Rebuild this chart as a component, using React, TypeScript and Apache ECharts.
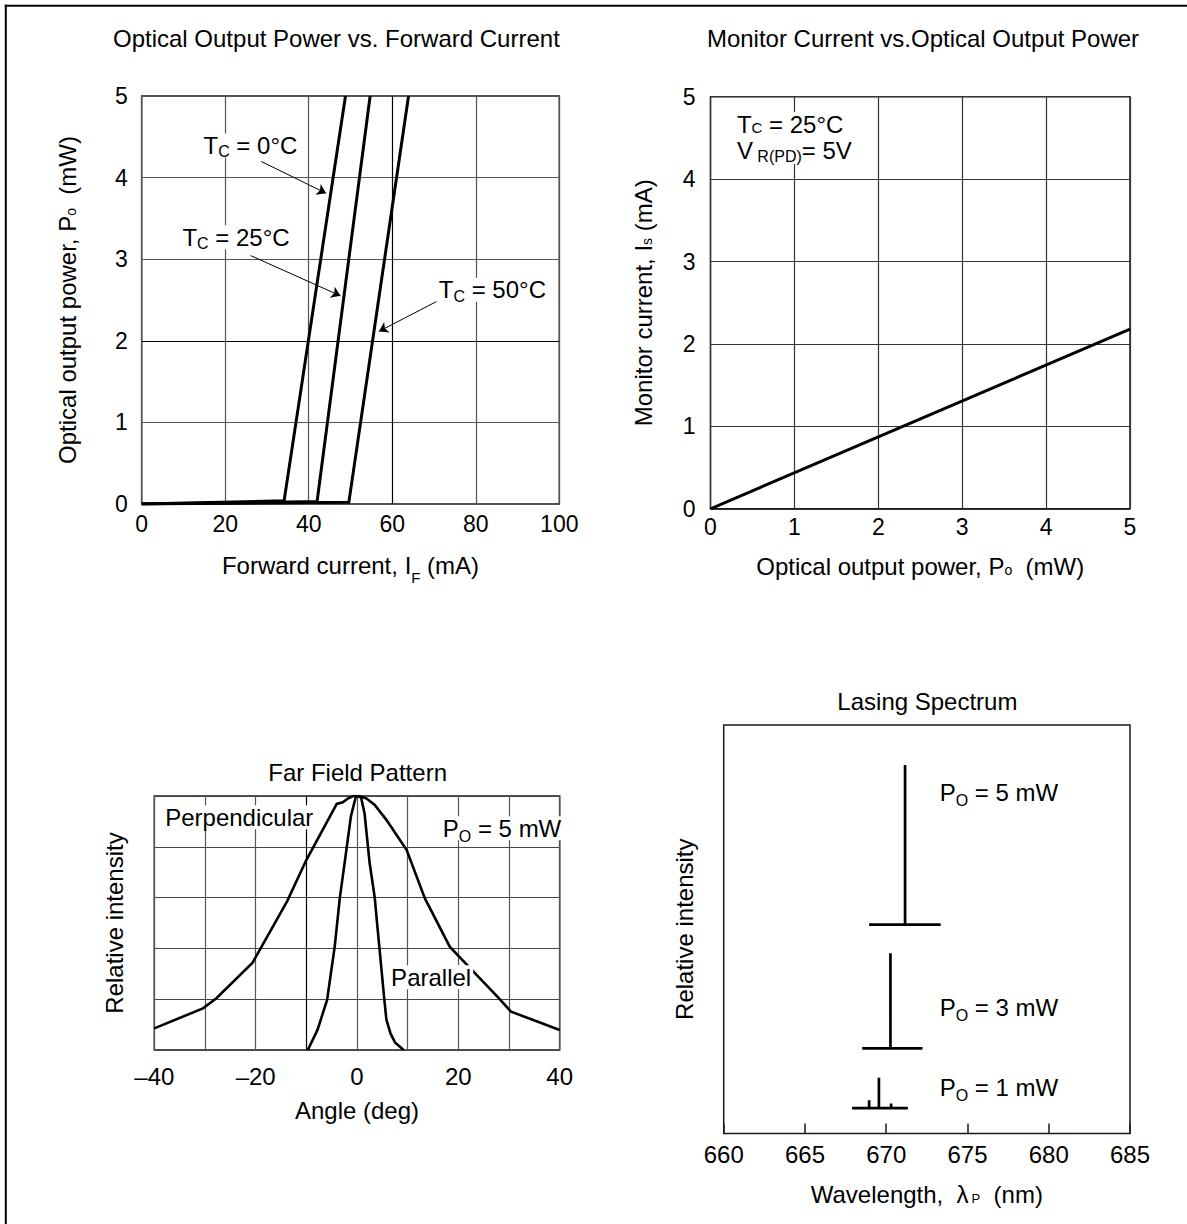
import React, { useEffect, useRef } from 'react';
import * as echarts from 'echarts';

const FONT = "'Liberation Sans', Arial, Helvetica, sans-serif";

// ---------- Optical Output Power vs. Forward Current ----------
const tc0Curve = [[0, 0], [34.1, 0.04], [48.8, 5]];
const tc25Curve = [[0, 0], [42.0, 0.03], [54.7, 5]];
const tc50Curve = [[0, 0], [49.6, 0.02], [63.9, 5]];
const tcLabelTexts = ['T{sub|C} = 0°C', 'T{sub|C} = 25°C', 'T{sub|C} = 50°C'];
const tcLabelAnchors = [[14.2, 4.394], [9.15, 3.268], [70.55, 2.626]];
const tcArrowFrom = [[28.66, 4.197], [26.1, 3.044], [70.55, 2.48]];
const tcArrowTo = [[44.16, 3.808], [47.6, 2.551], [56.8, 2.115]];

// ---------- Monitor Current vs. Optical Output Power ----------
const monitorLine = [[0, 0], [5, 2.18]];
const monitorLabelTexts = ['T{subT|C} = 25°C\nV{subV| R(PD)}= 5V'];
const monitorLabelAnchors = [[0.285, 4.499]];

// ---------- Far Field Pattern ----------
const perpendicularCurve = [
  [-40, 0.085], [-30.4, 0.164], [-27.8, 0.203], [-20.6, 0.344], [-13.8, 0.585],
  [-10, 0.748], [-4, 0.969], [-2.8, 0.975], [-1.8, 0.99], [-0.8, 1.0], [0.5, 1.0],
  [1.9, 0.99], [3.5, 0.965], [5.8, 0.906], [9.8, 0.787], [13.4, 0.597],
  [18.3, 0.407], [20.2, 0.367], [27.7, 0.21], [30.4, 0.151], [40, 0.079],
];
const parallelCurve = [
  [-9.7, 0], [-7.8, 0.079], [-5.9, 0.197], [-4.4, 0.407], [-3.4, 0.597],
  [-2.1, 0.787], [-1.2, 0.92], [-0.2, 1.0], [0.8, 0.995], [1.5, 0.93],
  [2.5, 0.735], [3.5, 0.6], [3.9, 0.512], [5.4, 0.197], [5.8, 0.12],
  [6.6, 0.066], [7.5, 0.03], [9.2, 0],
];
const angleTickLabels = ['–40', '–20', '0', '20', '40'];
const farLabelTexts = ['Perpendicular', 'P{subP|O} = 5 mW', 'Parallel'];
const farLabelAnchors = [[-38.34, 0.916], [16.44, 0.873], [6.24, 0.286]];

// ---------- Lasing Spectrum ----------
const spec5mW = [[668.95, 51.1], [671.16, 51.1], [671.16, 90.2], [671.16, 51.1], [673.35, 51.1]];
const spec3mW = [[668.52, 20.8], [670.26, 20.8], [670.26, 44.1], [670.26, 20.8], [672.23, 20.8]];
const spec1mW = [
  [667.9, 6.2], [668.95, 6.2], [668.95, 8.1], [668.95, 6.2], [669.55, 6.2], [669.55, 13.6],
  [669.55, 6.2], [670.3, 6.2], [670.3, 7.3], [670.3, 6.2], [671.33, 6.2],
];
const specLabelTexts = ['P{subP|O} = 5 mW', 'P{subP|O} = 3 mW', 'P{subP|O} = 1 mW'];
const specLabelAnchors = [[673.14, 83.4], [673.14, 30.8], [673.14, 11.3]];

const rich: any = {
  sub: { fontSize: 16, fontFamily: FONT, color: '#000', lineHeight: 24, padding: [13, 0, 0, 0] },
  subT: { fontSize: 15, fontFamily: FONT, color: '#000', lineHeight: 24, padding: [6, 0, 0, 0] },
  subV: { fontSize: 16, fontFamily: FONT, color: '#000', lineHeight: 24, padding: [12, 0, 0, 0] },
  subP: { fontSize: 16, fontFamily: FONT, color: '#000', lineHeight: 24, padding: [16, 0, 0, 0] },
  subF: { fontSize: 15, fontFamily: FONT, color: '#000', lineHeight: 24, padding: [24, 0, 0, 0] },
  small: { fontSize: 14, fontFamily: FONT, color: '#000', lineHeight: 24, padding: [7, 0, 0, 0] },
  lam: { fontSize: 13, fontFamily: FONT, color: '#000', lineHeight: 24, padding: [9, 0, 0, 3] },
};

const nameStyle = { fontSize: 24, fontFamily: FONT, color: '#000', rich };
const gridLineTL_X = { show: true, lineStyle: { color: ['#555', '#555', '#555', '#000', '#555', '#555'], width: 1.2 } };
const gridLineTL_Y = { show: true, lineStyle: { color: ['#555', '#555', '#000', '#555', '#555', '#555'], width: 1.2 } };
const gridLineTR = { show: true, lineStyle: { color: '#333', width: 1.2 } };
const gridLineFF_X = { show: true, lineStyle: { color: ['#555', '#555', '#555', '#000', '#555', '#555', '#555', '#555', '#555'], width: 1.2 } };
const gridLineFF_Y = { show: true, lineStyle: { color: '#444', width: 1.2 } };

function labelPoints(texts: string[], anchors: number[][], lineHeight?: number) {
  const label: any = {
    show: true,
    position: 'right',
    distance: 0,
    fontSize: 24,
    fontFamily: FONT,
    color: '#000',
    backgroundColor: '#fff',
    padding: [0, 2],
    rich,
  };
  if (lineHeight) label.lineHeight = lineHeight;
  return {
    silent: true,
    symbol: 'circle',
    symbolSize: 1,
    itemStyle: { color: 'rgba(0,0,0,0)' },
    label,
    data: texts.map((t, i) => ({ coord: anchors[i], label: { formatter: () => t } })),
  };
}

function lineSeries(data: number[][], gi: number, width: number, extra: any = {}) {
  return {
    type: 'line',
    xAxisIndex: gi,
    yAxisIndex: gi,
    data,
    showSymbol: false,
    symbol: 'none',
    silent: true,
    lineStyle: { color: '#000', width, cap: 'butt', join: 'miter' },
    ...extra,
  };
}

function buildOption() {
  const gridBox = { show: true, borderColor: '#1a1a1a', borderWidth: 1.5, outerBoundsMode: 'none', containLabel: false };
  return {
    animation: false,
    backgroundColor: '#fff',
    grid: [
      { left: 141.7, top: 96, width: 417.6, height: 408, ...gridBox },
      { left: 710.5, top: 96.7, width: 419.5, height: 412.1, ...gridBox },
      { left: 154.3, top: 796, width: 405.4, height: 254, ...gridBox },
      { left: 723.7, top: 725, width: 406.3, height: 408.4, ...gridBox },
    ],
    xAxis: [
      {
        type: 'value', gridIndex: 0, min: 0, max: 100, interval: 20,
        axisLine: { show: false }, axisTick: { show: false }, splitLine: gridLineTL_X,
        axisLabel: { fontSize: 23, fontFamily: FONT, color: '#000', margin: 8 },
        name: 'Forward current, I{subF|F} (mA)', nameLocation: 'middle', nameGap: 49, nameTextStyle: nameStyle,
      },
      {
        type: 'value', gridIndex: 1, min: 0, max: 5, interval: 1,
        axisLine: { show: false }, axisTick: { show: false }, splitLine: gridLineTR,
        axisLabel: { fontSize: 23, fontFamily: FONT, color: '#000', margin: 7 },
        name: 'Optical output power, P{small|o}  (mW)', nameLocation: 'middle', nameGap: 46, nameTextStyle: nameStyle,
      },
      {
        type: 'value', gridIndex: 2, min: -40, max: 40, interval: 10,
        axisLine: { show: false }, axisTick: { show: false }, splitLine: gridLineFF_X,
        axisLabel: {
          fontSize: 24, fontFamily: FONT, color: '#000', margin: 14,
          formatter: (v: number) => (v % 20 === 0 ? angleTickLabels[(v + 40) / 20] : ''),
        },
        name: 'Angle (deg)', nameLocation: 'middle', nameGap: 48, nameTextStyle: nameStyle,
      },
      {
        type: 'value', gridIndex: 3, min: 660, max: 685, interval: 5,
        axisLine: { show: false },
        axisTick: { show: true, inside: true, length: 10, lineStyle: { color: '#1a1a1a', width: 1.5 } },
        splitLine: { show: false },
        axisLabel: { fontSize: 24, fontFamily: FONT, color: '#000', margin: 9 },
        name: 'Wavelength,  λ{lam|P}  (nm)', nameLocation: 'middle', nameGap: 49, nameTextStyle: nameStyle,
      },
    ],
    yAxis: [
      {
        type: 'value', gridIndex: 0, min: 0, max: 5, interval: 1,
        axisLine: { show: false }, axisTick: { show: false }, splitLine: gridLineTL_Y,
        axisLabel: { fontSize: 23, fontFamily: FONT, color: '#000', margin: 14 },
        name: 'Optical output power, P{small|o}  (mW)', nameLocation: 'middle', nameRotate: 90, nameGap: 62,
        nameTextStyle: nameStyle,
      },
      {
        type: 'value', gridIndex: 1, min: 0, max: 5, interval: 1,
        axisLine: { show: false }, axisTick: { show: false }, splitLine: gridLineTR,
        axisLabel: { fontSize: 23, fontFamily: FONT, color: '#000', margin: 15 },
        name: 'Monitor current, I{small|s} (mA)', nameLocation: 'middle', nameRotate: 90, nameGap: 55,
        nameTextStyle: nameStyle,
      },
      {
        type: 'value', gridIndex: 2, min: 0, max: 1, interval: 0.2,
        axisLine: { show: false }, axisTick: { show: false }, splitLine: gridLineFF_Y,
        axisLabel: { show: false },
        name: 'Relative intensity', nameLocation: 'middle', nameRotate: 90, nameGap: 28, nameTextStyle: nameStyle,
      },
      {
        type: 'value', gridIndex: 3, min: 0, max: 100,
        axisLine: { show: false }, axisTick: { show: false }, splitLine: { show: false },
        axisLabel: { show: false },
        name: 'Relative intensity', nameLocation: 'middle', nameRotate: 90, nameGap: 27, nameTextStyle: nameStyle,
      },
    ],
    series: [
      lineSeries(tc0Curve, 0, 3, {
        markPoint: labelPoints(tcLabelTexts, tcLabelAnchors),
        markLine: {
          silent: true,
          symbol: ['none', 'arrow'],
          symbolSize: 9,
          label: { show: false },
          emphasis: { disabled: true },
          lineStyle: { color: '#000', width: 1, type: 'solid' },
          data: tcArrowFrom.map((a, i) => [{ coord: a }, { coord: tcArrowTo[i] }]),
        },
      }),
      lineSeries(tc25Curve, 0, 3),
      lineSeries(tc50Curve, 0, 3),
      lineSeries(monitorLine, 1, 3, { markPoint: labelPoints(monitorLabelTexts, monitorLabelAnchors, 26) }),
      lineSeries(perpendicularCurve, 2, 2.6, { markPoint: labelPoints(farLabelTexts, farLabelAnchors) }),
      lineSeries(parallelCurve, 2, 2.6),
      lineSeries(spec5mW, 3, 2.7, { markPoint: labelPoints(specLabelTexts, specLabelAnchors) }),
      lineSeries(spec3mW, 3, 2.7),
      lineSeries(spec1mW, 3, 2.7),
    ],
    graphic: [
      { type: 'line', silent: true, shape: { x1: 5.8, y1: 4.7, x2: 5.8, y2: 1224 }, style: { stroke: '#000', lineWidth: 2 } },
      { type: 'line', silent: true, shape: { x1: 4.8, y1: 5.7, x2: 1187, y2: 5.7 }, style: { stroke: '#000', lineWidth: 2 } },
      ...[
        ['Optical Output Power vs. Forward Current', 336.4, 38.3],
        ['Monitor Current vs.Optical Output Power', 923, 38.2],
        ['Far Field Pattern', 357.6, 772.3],
        ['Lasing Spectrum', 927.4, 701.5],
      ].map(([t, x, y]) => ({
        type: 'text',
        silent: true,
        x: x as number,
        y: y as number,
        style: {
          text: t as string, fontSize: 24, fontFamily: FONT, fill: '#000',
          align: 'center', verticalAlign: 'middle', textAlign: 'center', textVerticalAlign: 'middle',
        },
      })),
    ],
  };
}

export default function App() {
  const ref = useRef<HTMLDivElement>(null);
  useEffect(() => {
    document.body.style.margin = '0';
    document.body.style.overflow = 'hidden';
    const chart = echarts.init(ref.current as HTMLDivElement, null, { renderer: 'svg', width: 1187, height: 1224 });
    chart.setOption(buildOption() as any);
    return () => chart.dispose();
  }, []);
  return (
    <div
      ref={ref}
      style={{ position: 'absolute', left: 0, top: 0, width: 1187, height: 1224, background: '#fff' }}
    />
  );
}
